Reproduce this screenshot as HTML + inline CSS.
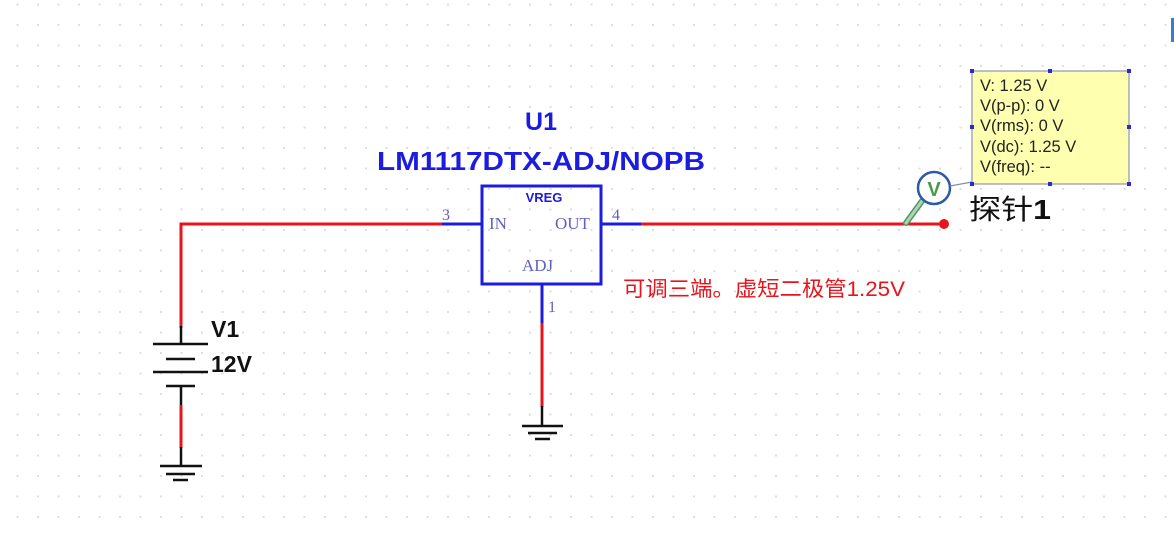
<!DOCTYPE html>
<html><head><meta charset="utf-8"><style>
html,body{margin:0;padding:0;background:#fff;}
svg{display:block;}
</style></head><body>
<svg width="1174" height="536" viewBox="0 0 1174 536" xmlns="http://www.w3.org/2000/svg">
<defs>
<pattern id="g" x="16.5" y="3.5" width="20.5" height="20.5" patternUnits="userSpaceOnUse">
<rect x="0" y="0" width="2" height="2" fill="#dedede"/>
</pattern>
</defs>
<rect width="1174" height="536" fill="#fff"/>
<rect width="1174" height="536" fill="url(#g)"/>
<rect x="1171" y="18" width="3" height="24" fill="#3a7fc0"/>

<polyline points="181,328 181,224 442,224" fill="none" stroke="#e8141c" stroke-width="3"/>
<line x1="181" y1="326" x2="181" y2="344" stroke="#111" stroke-width="2.5"/>
<line x1="442" y1="224" x2="481" y2="224" stroke="#1c1ce0" stroke-width="3"/>
<line x1="153" y1="344" x2="208" y2="344" stroke="#111" stroke-width="2.5"/>
<line x1="166" y1="359" x2="195" y2="359" stroke="#111" stroke-width="2.5"/>
<line x1="153" y1="372" x2="208" y2="372" stroke="#111" stroke-width="2.5"/>
<line x1="166" y1="386" x2="195" y2="386" stroke="#111" stroke-width="2.5"/>
<line x1="181" y1="386" x2="181" y2="406" stroke="#111" stroke-width="2.5"/>
<line x1="181" y1="405" x2="181" y2="448" stroke="#e8141c" stroke-width="3"/>
<line x1="181" y1="447" x2="181" y2="466" stroke="#111" stroke-width="2.5"/>
<line x1="160" y1="466" x2="202" y2="466" stroke="#111" stroke-width="2.5"/>
<line x1="166" y1="474" x2="195" y2="474" stroke="#111" stroke-width="2.5"/>
<line x1="173" y1="480" x2="188" y2="480" stroke="#111" stroke-width="2.5"/>
<text x="211" y="337" font-family="Liberation Sans, sans-serif" font-weight="bold" font-size="23" fill="#111">V1</text>
<text x="211" y="372" font-family="Liberation Sans, sans-serif" font-weight="bold" font-size="23" fill="#111">12V</text>

<rect x="482" y="186" width="119" height="98" fill="none" stroke="#1c1ce0" stroke-width="3"/>
<text x="541" y="130" text-anchor="middle" font-family="Liberation Sans, sans-serif" font-weight="bold" font-size="25" fill="#1c1ce0">U1</text>
<text x="377" y="170" textLength="328" lengthAdjust="spacingAndGlyphs" font-family="Liberation Sans, sans-serif" font-weight="bold" font-size="26" fill="#1c1ce0">LM1117DTX-ADJ/NOPB</text>
<text x="544" y="202" text-anchor="middle" font-family="Liberation Sans, sans-serif" font-weight="bold" font-size="13" fill="#1c1ce0">VREG</text>
<text x="489" y="229" font-family="Liberation Serif, serif" font-size="17" fill="#6060c0">IN</text>
<text x="555" y="229" font-family="Liberation Serif, serif" font-size="17" fill="#6060c0">OUT</text>
<text x="522" y="271" font-family="Liberation Serif, serif" font-size="17" fill="#6060c0">ADJ</text>
<text x="442" y="220" font-family="Liberation Serif, serif" font-size="16" fill="#6060c0">3</text>
<text x="612" y="220" font-family="Liberation Serif, serif" font-size="16" fill="#6060c0">4</text>
<text x="548" y="312" font-family="Liberation Serif, serif" font-size="16" fill="#6060c0">1</text>

<line x1="602" y1="224" x2="641" y2="224" stroke="#1c1ce0" stroke-width="3"/>
<line x1="641" y1="224" x2="944" y2="224" stroke="#e8141c" stroke-width="3"/>
<line x1="542" y1="284" x2="542" y2="324" stroke="#1c1ce0" stroke-width="3"/>
<line x1="542" y1="323" x2="542" y2="407" stroke="#e8141c" stroke-width="3"/>
<line x1="542" y1="406" x2="542" y2="426" stroke="#111" stroke-width="2.5"/>
<line x1="522" y1="426" x2="563" y2="426" stroke="#111" stroke-width="2.5"/>
<line x1="528" y1="433" x2="557" y2="433" stroke="#111" stroke-width="2.5"/>
<line x1="535" y1="439" x2="550" y2="439" stroke="#111" stroke-width="2.5"/>

<text x="623" y="296" textLength="282" lengthAdjust="spacingAndGlyphs" font-family="Liberation Sans, 'Noto Sans CJK SC', sans-serif" font-size="21" fill="#e8141c">可调三端。虚短二极管1.25V</text>

<line x1="922" y1="201" x2="906" y2="223" stroke="#5a8f6a" stroke-width="6" stroke-linecap="round"/>
<line x1="922" y1="201" x2="906" y2="223" stroke="#a8d8b0" stroke-width="3" stroke-linecap="round"/>
<circle cx="934" cy="188" r="16" fill="#fff" stroke="#2a5aa8" stroke-width="2.5"/>
<text x="934" y="196" text-anchor="middle" font-family="Liberation Sans, sans-serif" font-weight="bold" font-size="20" fill="#4a9a4a">V</text>
<circle cx="944" cy="224" r="5" fill="#e8141c"/>
<line x1="950" y1="186" x2="972" y2="182" stroke="#8090b0" stroke-width="1.2"/>
<text x="969" y="219" textLength="82" lengthAdjust="spacingAndGlyphs" font-family="Liberation Sans, 'Noto Sans CJK SC', sans-serif" font-size="28" fill="#111">探针<tspan font-weight="bold">1</tspan></text>

<rect x="972" y="71" width="157" height="113" fill="#ffffb0" stroke="#8a94b8" stroke-width="1.2"/>
<g fill="#2a2ad0">
<rect x="970" y="69" width="4" height="4"/><rect x="1048" y="69" width="4" height="4"/><rect x="1127" y="69" width="4" height="4"/>
<rect x="970" y="125" width="4" height="4"/><rect x="1127" y="125" width="4" height="4"/>
<rect x="970" y="182" width="4" height="4"/><rect x="1048" y="182" width="4" height="4"/><rect x="1127" y="182" width="4" height="4"/>
</g>
<g font-family="Liberation Sans, sans-serif" font-size="16.5" fill="#222">
<text x="980" y="91">V: 1.25 V</text>
<text x="980" y="111">V(p-p): 0 V</text>
<text x="980" y="131">V(rms): 0 V</text>
<text x="980" y="152">V(dc): 1.25 V</text>
<text x="980" y="172">V(freq): --</text>
</g>
</svg>
</body></html>
